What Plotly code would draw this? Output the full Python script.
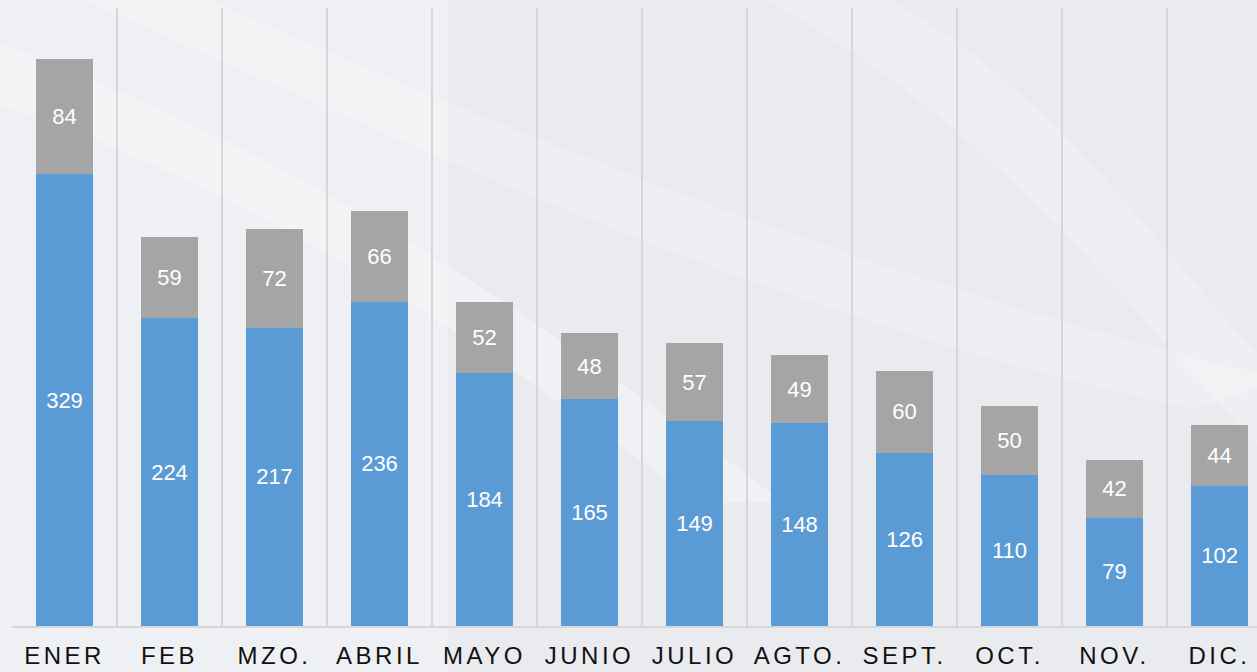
import plotly.graph_objects as go

months = ["ENER", "FEB", "MZO.", "ABRIL", "MAYO", "JUNIO", "JULIO", "AGTO.", "SEPT.", "OCT.", "NOV.", "DIC."]
serie_azul = [329, 224, 217, 236, 184, 165, 149, 148, 126, 110, 79, 102]
serie_gris = [84, 59, 72, 66, 52, 48, 57, 49, 60, 50, 42, 44]

fig = go.Figure()
fig.add_trace(go.Bar(
    x=months, y=serie_azul, name="Azul",
    marker=dict(color="#5B9BD5", line=dict(width=0)),
    text=serie_azul, textposition="inside", insidetextanchor="middle",
    textangle=0, constraintext="none",
    textfont=dict(family="Liberation Sans, Arial", size=22, color="white"),
))
fig.add_trace(go.Bar(
    x=months, y=serie_gris, name="Gris",
    marker=dict(color="#A5A5A5", line=dict(width=0)),
    text=serie_gris, textposition="inside", insidetextanchor="middle",
    textangle=0, constraintext="none",
    textfont=dict(family="Liberation Sans, Arial", size=22, color="white"),
))

# soft background swooshes (decorative)
shapes = [
    dict(type="rect", xref="paper", yref="paper", x0=-0.02, x1=0.35, y0=-0.1, y1=1.02,
         fillcolor="rgba(255,255,255,0.25)", line=dict(width=0), layer="below"),
    dict(type="path", xref="paper", yref="paper",
         path="M -0.02,0.85 C 0.2,0.7 0.35,0.5 0.55,0.2 L 0.62,0.2 C 0.42,0.5 0.25,0.75 -0.02,0.95 Z",
         fillcolor="rgba(255,255,255,0.3)", line=dict(width=0), layer="below"),
    dict(type="path", xref="paper", yref="paper",
         path="M 0.05,1.02 C 0.3,0.8 0.6,0.5 0.95,0.35 L 1.02,0.4 C 0.7,0.55 0.4,0.8 0.15,1.02 Z",
         fillcolor="rgba(255,255,255,0.2)", line=dict(width=0), layer="below"),
    dict(type="path", xref="paper", yref="paper",
         path="M 0.6,1.02 C 0.8,0.8 0.9,0.5 1.02,0.25 L 1.02,0.4 C 0.92,0.6 0.85,0.85 0.7,1.02 Z",
         fillcolor="rgba(255,255,255,0.2)", line=dict(width=0), layer="below"),
]

fig.update_layout(
    barmode="stack",
    bargap=0.45,
    width=1257, height=672,
    margin=dict(l=12, r=0, t=8, b=46, autoexpand=False),
    paper_bgcolor="#EAEBEF",
    plot_bgcolor="rgba(0,0,0,0)",
    showlegend=False,
    shapes=shapes,
    font=dict(family="Liberation Sans, Arial"),
)
fig.update_xaxes(
    type="category",
    range=[-0.5, 11.357],
    automargin=False,
    tickson="boundaries",
    showgrid=True, gridcolor="#D6D7DA", gridwidth=1.5,
    showline=True, linecolor="#D6D7DA", linewidth=1.5,
    ticks="", ticklabelstandoff=7,
    tickfont=dict(family="Liberation Sans, Arial", size=24, color="#111111"),
    zeroline=False,
)
fig.update_yaxes(
    range=[0, 450],
    automargin=False,
    showgrid=False, showticklabels=False, zeroline=False, showline=False,
)

post = """
document.body.style.margin='0';
document.querySelectorAll('.xtick text').forEach(function(t){t.style.letterSpacing='3.5px';});
"""
fig.write_html("out.html", post_script=post, config={"displayModeBar": False})
